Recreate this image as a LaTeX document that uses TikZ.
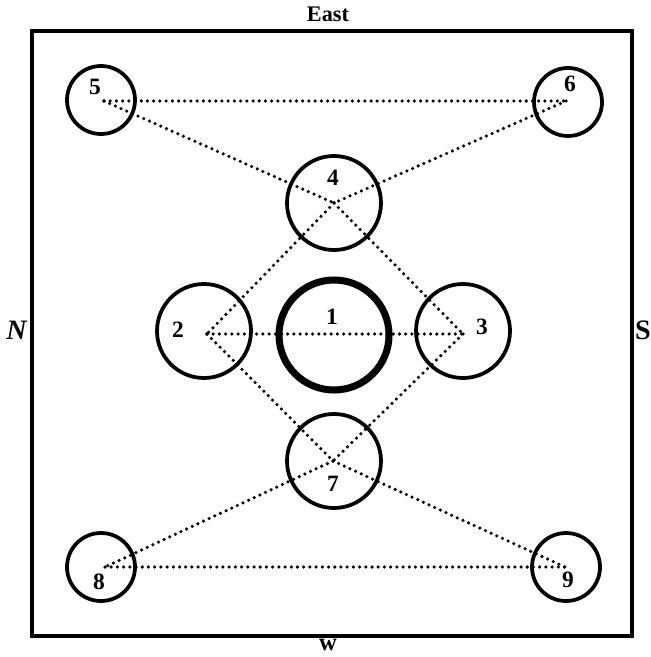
\documentclass[tikz,border=0pt]{standalone}
\usepackage{fontspec}
\setmainfont{Liberation Serif}
\usetikzlibrary{positioning}
\tikzset{
    ring/.style={draw, circle, line width=3.2pt, inner sep=0pt},
    smallring/.style={ring, minimum size=2.04cm},
    midring/.style={ring, minimum size=2.82cm},
    bigring/.style={ring, line width=6pt, minimum size=3.3cm},
    dotline/.style={line width=3pt, line cap=round, dash pattern=on 0pt off 5.3pt},
    numlabel/.style={font=\fontsize{20}{24}\selectfont\bfseries, inner sep=0pt},
    sidelabel/.style={font=\fontsize{24}{28}\selectfont\bfseries, inner sep=0pt}
}
\begin{document}
\begin{tikzpicture}[x=0.03cm, y=-0.03cm]
\useasboundingbox (0,0) rectangle (650,657);
\draw[line width=3.6pt] (32,31) rectangle (632,636);
% quarters
\node[sidelabel, font=\fontsize{19}{22}\selectfont\bfseries] (east) at (328,14) {East};
\node[sidelabel] (north) at (17,330) {\textit{N}};
\node[sidelabel] (south) at (643,330) {S};
\node[sidelabel, font=\fontsize{21}{24}\selectfont\bfseries] (west) at (328,645) {w};
% rings
\node[bigring] (c1) at (334,335) {};
\node[midring] (c2) at (204,331) {};
\node[midring] (c3) at (463,331) {};
\node[midring] (c4) at (334,203) {};
\node[midring] (c7) at (334,461) {};
\node[smallring] (c5) at (101,100) {};
\node[smallring] (c6) at (568,102) {};
\node[smallring] (c8) at (101,567) {};
\node[smallring] (c9) at (566,567) {};
% numbers
\node[numlabel] (n1) at (332,317) {1};
\node[numlabel] (n2) at (178,330) {2};
\node[numlabel] (n3) at (482,327) {3};
\node[numlabel] (n4) at (333,178) {4};
\node[numlabel] (n5) at (95,87) {5};
\node[numlabel] (n6) at (570,84) {6};
\node[numlabel] (n7) at (333,484) {7};
\node[numlabel] (n8) at (99,582) {8};
\node[numlabel] (n9) at (568,580) {9};
% stations
\coordinate (p2) at (207,334);
\coordinate (p3) at (463,334);
\coordinate (p4) at (334,203);
\coordinate (p5) at (104,101);
\coordinate (p6) at (566,101);
\coordinate (p7) at (333,461);
\coordinate (p8) at (105,567);
\coordinate (p9) at (565,567);
\draw[dotline] (p5) -- (p6);
\draw[dotline] (p5) -- (p4);
\draw[dotline] (p6) -- (p4);
\draw[dotline] (p4) -- (p2);
\draw[dotline] (p4) -- (p3);
\draw[dotline] (p2) -- (p3);
\draw[dotline] (p2) -- (p7);
\draw[dotline] (p3) -- (p7);
\draw[dotline] (p7) -- (p8);
\draw[dotline] (p7) -- (p9);
\draw[dotline] (p8) -- (p9);
\end{tikzpicture}
\end{document}
